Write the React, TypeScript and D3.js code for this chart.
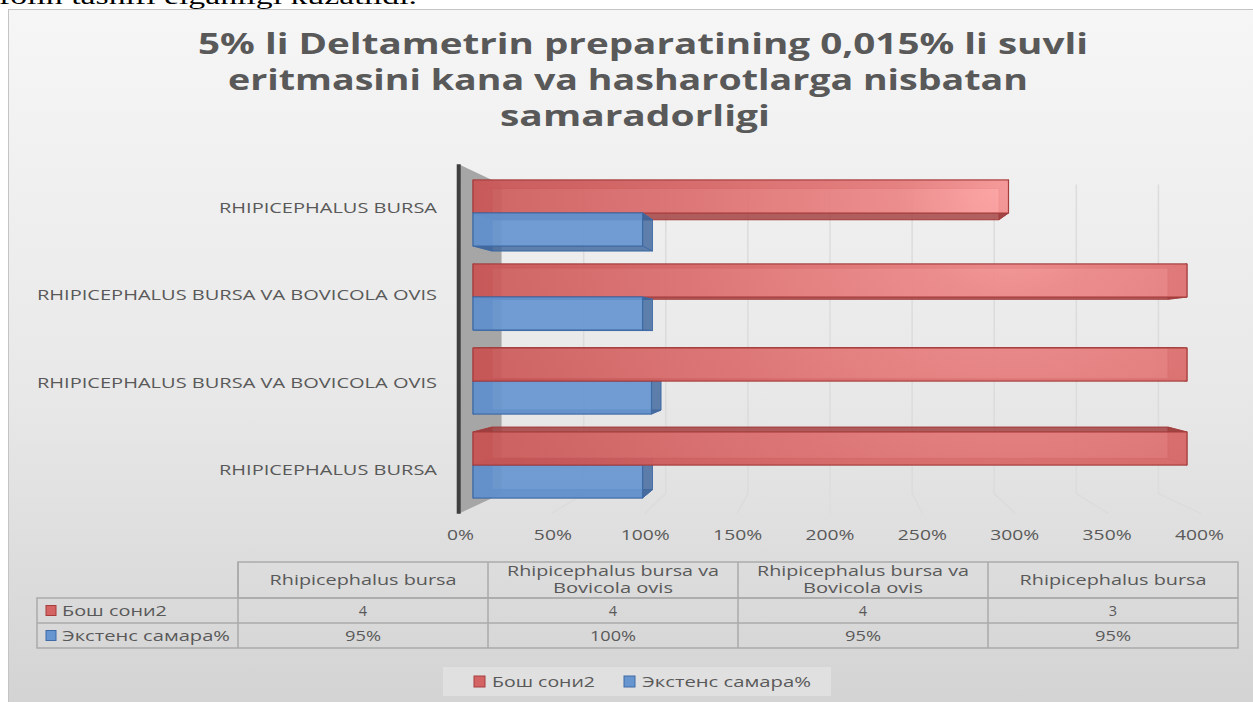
import React, { useRef, useEffect } from 'react';
import * as d3 from 'd3';

// chart data (table order = bottom category first)
const categories = [
  'Rhipicephalus bursa',
  'Rhipicephalus bursa va Bovicola ovis',
  'Rhipicephalus bursa va Bovicola ovis',
  'Rhipicephalus bursa',
];
const boshSoni = [4, 4, 4, 3];
const ekstensSamara = [0.95, 1.0, 0.95, 0.95];
const seriesNames = ['Бош сони2', 'Экстенс самара%'];
const tickValues = [0, 0.5, 1, 1.5, 2, 2.5, 3, 3.5, 4];
const titleLines = [
  '5% li Deltametrin preparatining 0,015% li suvli',
  'eritmasini kana va hasharotlarga nisbatan',
  'samaradorligi',
];
const pageText = 'folin tasnifi elganligi kuzatildi.';

const FONT = '"Open Sans", "Noto Sans", sans-serif';
const TXT = '#595959';

const draw = (svgRef: React.RefObject<SVGSVGElement>) => {
  const svgEl = d3.select(svgRef.current);
  svgEl.selectAll('*').remove();

  const defs = svgEl.append('defs');
  const bg = defs.append('linearGradient').attr('id', 'bgGrad')
    .attr('x1', 0).attr('y1', 0).attr('x2', 0).attr('y2', 1);
  bg.append('stop').attr('offset', '0').attr('stop-color', '#f6f6f6');
  bg.append('stop').attr('offset', '0.55').attr('stop-color', '#e8e8e8');
  bg.append('stop').attr('offset', '1').attr('stop-color', '#d3d3d3');

  // lighter towards the top-right, like the reference's lighting
  const rg = defs.append('radialGradient').attr('id', 'redGrad')
    .attr('gradientUnits', 'userSpaceOnUse')
    .attr('cx', 1010).attr('cy', 185).attr('r', 560);
  rg.append('stop').attr('offset', '0').attr('stop-color', '#ffa2a2');
  rg.append('stop').attr('offset', '0.2').attr('stop-color', '#ec8585');
  rg.append('stop').attr('offset', '0.6').attr('stop-color', '#db6c6c');
  rg.append('stop').attr('offset', '1').attr('stop-color', '#cb5858');

  // cut-off line of the document text above the chart
  svgEl.append('text')
    .attr('x', -1).attr('y', 4)
    .attr('font-family', '"Liberation Serif", serif')
    .attr('font-size', 24)
    .attr('fill', '#000')
    .attr('textLength', 418)
    .attr('lengthAdjust', 'spacingAndGlyphs')
    .text(pageText);

  // chart area
  svgEl.append('rect')
    .attr('x', 8.5).attr('y', 9.5).attr('width', 1260).attr('height', 700)
    .attr('fill', 'url(#bgGrad)')
    .attr('stroke', '#c4c4c4');

  const g = svgEl.append('g');

  const addText = (parent: any, txt: string, x: number, y: number, size: number,
                   width: number | null, anchor = 'middle', weight = 'normal') => {
    const t = parent.append('text')
      .attr('x', x).attr('y', y)
      .attr('font-family', FONT)
      .attr('font-size', size)
      .attr('font-weight', weight)
      .attr('text-anchor', anchor)
      .attr('fill', TXT)
      .text(txt);
    if (width) t.attr('textLength', width).attr('lengthAdjust', 'spacingAndGlyphs');
    return t;
  };

  // title
  const titleX = [198, 228, 500];
  const titleW = [890, 800, 270];
  const titleY = [54, 90, 126];
  titleLines.forEach((l, i) => addText(g, l, titleX[i], titleY[i], 29, titleW[i], 'start', 'bold'));

  // perspective
  const VX = 830, VY = 340;
  const S_BACK = 0.947, WALL_F = 1.04, WALL_B = 0.92;
  const proj = (x: number, y: number, s: number) => [VX + s * (x - VX), VY + s * (y - VY)];
  const pts = (arr: number[][]) => arr.map(p => p.join(',')).join(' ');

  const xScale = d3.scaleLinear().domain([0, 4]).range([473, 1187]);
  const yScale = d3.scaleBand<number>()
    .domain(d3.range(categories.length).reverse())
    .range([171, 507])
    .paddingInner(0.214)
    .paddingOuter(0.107);
  const sub = d3.scaleBand<number>().domain([0, 1]).range([0, yScale.bandwidth()]);

  const yTop = 171, yBot = 507;

  // gridlines: back wall + floor
  tickValues.slice(1).forEach(v => {
    const x = xScale(v);
    const a = proj(x, yTop, WALL_B), b = proj(x, yBot, WALL_B), c = proj(x, yBot, WALL_F);
    g.append('polyline')
      .attr('points', pts([a, b, c]))
      .attr('fill', 'none')
      .attr('stroke', '#dcdcdc')
      .attr('stroke-width', 1.5);
  });

  // left wall
  const x0 = xScale(0);
  g.append('polygon')
    .attr('points', pts([proj(x0, yTop, WALL_F), proj(x0, yTop, WALL_B), proj(x0, yBot, WALL_B), proj(x0, yBot, WALL_F)]))
    .attr('fill', '#a6a6a6');
  const wf1 = proj(x0, yTop, WALL_F), wf2 = proj(x0, yBot, WALL_F);
  g.append('line')
    .attr('x1', wf1[0]).attr('y1', wf1[1]).attr('x2', wf2[0]).attr('y2', wf2[1])
    .attr('stroke', '#3f3f3f').attr('stroke-width', 4);

  // category labels
  categories.forEach((c, i) => {
    const yc = proj(x0, (yScale(i) as number) + yScale.bandwidth() / 2, WALL_F)[1];
    addText(g, c.toUpperCase(), 437, yc + 5, 14, c.length > 20 ? 400 : 218, 'end');
  });

  // tick labels
  tickValues.forEach(v => {
    const x = proj(xScale(v), yBot, 1.035)[0];
    const lab = d3.format('.0%')(v);
    addText(g, lab, x, 540, 15, lab.length === 2 ? 27 : lab.length === 3 ? 38 : 49);
  });

  // bars
  const styles = [
    { face: 'url(#redGrad)', side: '#9c3a3a', stroke: '#a53d3d' },
    { face: '#6795d0', side: '#3d6498', stroke: '#3e6aa5' },
  ];
  const bars: any[] = [];
  categories.forEach((c, i) => {
    bars.push({ i, k: 0, v: boshSoni[i] });
    bars.push({ i, k: 1, v: ekstensSamara[i] });
  });
  const yOf = (b: any) => (yScale(b.i) as number) + (sub(b.k) as number);
  bars.sort((a, b) => Math.abs(yOf(b) + sub.bandwidth() / 2 - VY) - Math.abs(yOf(a) + sub.bandwidth() / 2 - VY));

  bars.forEach(b => {
    const st = styles[b.k];
    const bx0 = xScale(0), bx1 = xScale(b.v);
    const by0 = yOf(b), by1 = by0 + sub.bandwidth();
    const corners = [[bx0, by0], [bx1, by0], [bx1, by1], [bx0, by1]];
    const F = corners.map(p => proj(p[0], p[1], 1));
    const B = corners.map(p => proj(p[0], p[1], S_BACK));
    const bar = g.append('g');
    bar.append('polygon').attr('points', pts(B))
      .attr('fill', st.face).attr('fill-opacity', 0.35)
      .attr('stroke', st.stroke).attr('stroke-opacity', 0.6);
    const faces = [
      [F[0], F[1], B[1], B[0]],
      [F[3], F[2], B[2], B[3]],
      [F[0], F[3], B[3], B[0]],
      [F[1], F[2], B[2], B[1]],
    ];
    faces.forEach(f => {
      bar.append('polygon').attr('points', pts(f))
        .attr('fill', st.side).attr('fill-opacity', 0.75)
        .attr('stroke', st.stroke).attr('stroke-opacity', 0.7);
    });
    bar.append('polygon').attr('points', pts(F))
      .attr('fill', st.face).attr('fill-opacity', 0.88)
      .attr('stroke', st.stroke).attr('stroke-width', 1.2);
  });

  // data table
  const col = d3.scaleBand<number>().domain(d3.range(categories.length)).range([238, 1238]);
  const rowY = [562, 598, 623, 648];
  const tbl = g.append('g').attr('stroke', '#aaaaaa').attr('stroke-width', 1.5).attr('fill', 'none');
  tbl.append('rect').attr('x', 238).attr('y', rowY[0]).attr('width', 1000).attr('height', rowY[1] - rowY[0]);
  tbl.append('rect').attr('x', 37).attr('y', rowY[1]).attr('width', 1201).attr('height', rowY[3] - rowY[1]);
  tbl.append('line').attr('x1', 37).attr('x2', 1238).attr('y1', rowY[2]).attr('y2', rowY[2]);
  d3.range(categories.length).forEach(i => {
    const x = col(i) as number;
    tbl.append('line').attr('x1', x).attr('x2', x).attr('y1', rowY[0]).attr('y2', rowY[3]);
  });

  categories.forEach((c, i) => {
    const cx = (col(i) as number) + col.bandwidth() / 2;
    if (c.length > 20) {
      const cut = c.indexOf(' va ') + 3;
      addText(g, c.slice(0, cut), cx, 576, 14.5, 212);
      addText(g, c.slice(cut + 1), cx, 593, 14.5, 120);
    } else {
      addText(g, c, cx, 585, 14.5, 187);
    }
    addText(g, String(boshSoni[i]), cx, 616, 14.5, null);
    const p = d3.format('.0%')(ekstensSamara[i]);
    addText(g, p, cx, 641, 14.5, p.length > 3 ? 46 : 36);
  });

  // row labels with keys
  const keyFill = ['#d46464', '#6795d0'];
  const keyStroke = ['#a53d3d', '#3e6aa5'];
  seriesNames.forEach((s, k) => {
    const yc = (rowY[k + 1] + rowY[k + 2]) / 2;
    g.append('rect').attr('x', 46).attr('y', yc - 5).attr('width', 10).attr('height', 10)
      .attr('fill', keyFill[k]).attr('stroke', keyStroke[k]);
    addText(g, s, 62, yc + 5, 14.5, k === 0 ? 105 : 168, 'start');
  });

  // legend
  g.append('rect').attr('x', 443).attr('y', 667).attr('width', 388).attr('height', 29)
    .attr('fill', '#e2e2e2').attr('fill-opacity', 0.8);
  const legX = [474, 624];
  seriesNames.forEach((s, k) => {
    g.append('rect').attr('x', legX[k]).attr('y', 676).attr('width', 11).attr('height', 11)
      .attr('fill', keyFill[k]).attr('stroke', keyStroke[k]);
    addText(g, s, legX[k] + 18, 687, 14.5, k === 0 ? 103 : 169, 'start');
  });
};

export default function App() {
  const svgRef = useRef<SVGSVGElement>(null);

  useEffect(() => {
    draw(svgRef);
  }, []);

  return (
    <svg ref={svgRef} width={1253} height={702}
         style={{ position: 'absolute', left: 0, top: 0, background: '#fff' }} />
  );
}
